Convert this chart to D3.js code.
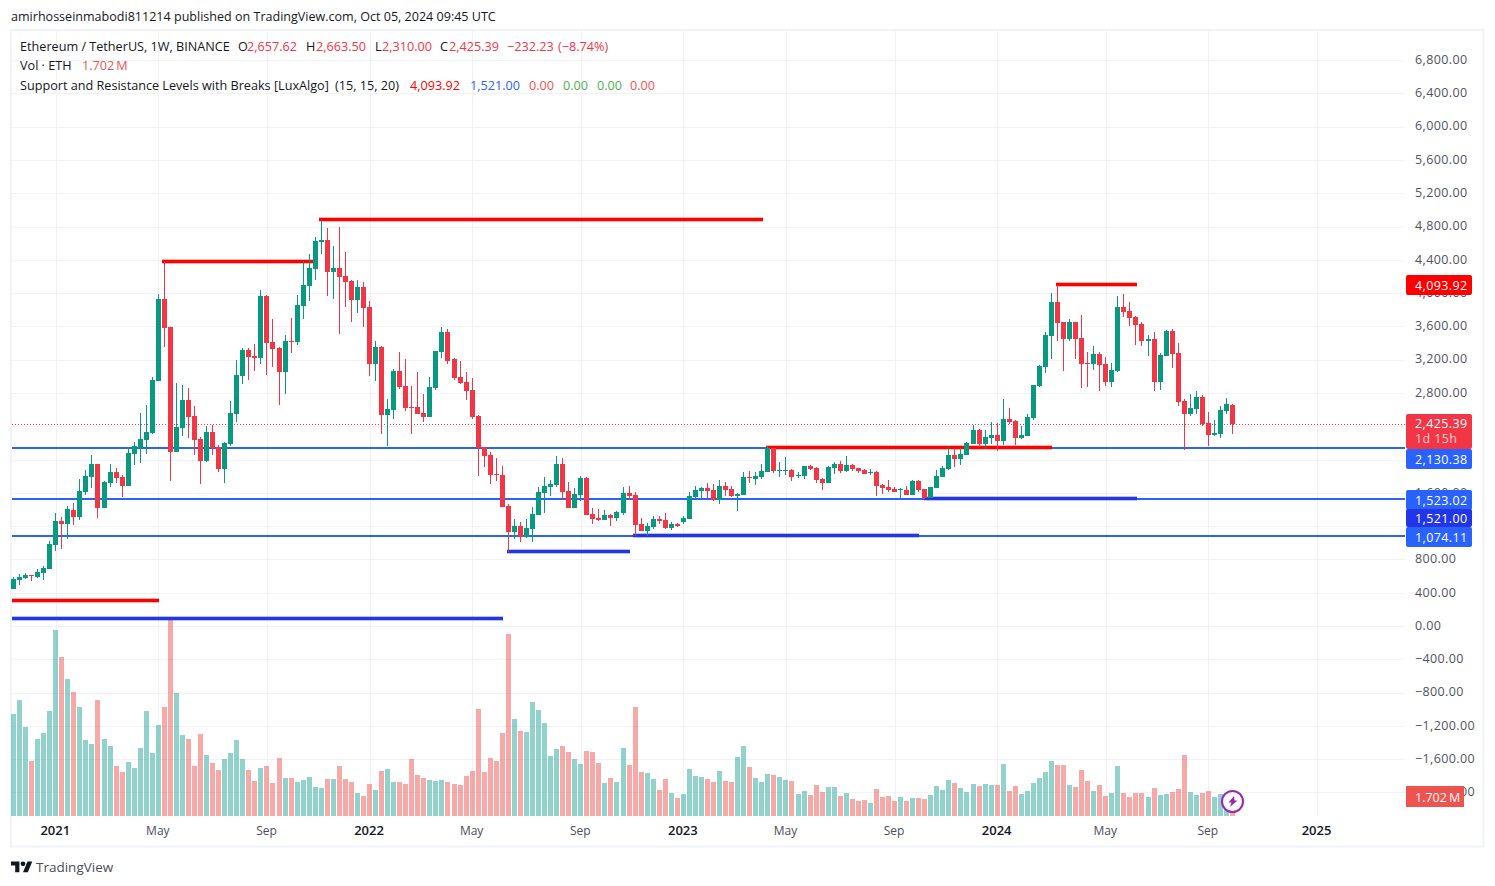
<!DOCTYPE html>
<meta charset="utf-8">
<style>
html, body { margin: 0; padding: 0; background: #fff; }
text { font-family: "Open Sans", "Noto Sans", sans-serif; }
</style>
<body>
<script src="https://d3js.org/d3.v7.min.js"></script>
<script>

// weekly ETH/USDT candles, one entry per week
var opens = [
  448,556,580,616,592,640,688,976,1264,1228,
  1396,1312,1612,1792,1948,1420,1720,1852,1792,1684,
  2068,2140,2236,2320,2944,3928,3592,2092,2380,2716,
  2524,2248,1984,2332,2152,1888,2188,2548,3004,3316,
  3244,3220,3964,3412,3340,3052,3424,3412,3844,4084,
  4288,4612,4636,4252,4300,4203,4143,3915,4071,3831,
  3146,3350,2534,2594,3062,2882,2630,2630,2558,2510,
  2858,3290,3530,3206,2990,2930,2834,2522,2150,2054,
  1826,1814,1442,1130,1202,1070,1166,1334,1598,1670,
  1694,1946,1622,1418,1574,1778,1346,1298,1274,1334,
  1298,1358,1598,1574,1226,1142,1190,1286,1274,1178,
  1226,1249,1285,1549,1621,1657,1633,1513,1681,1645,
  1561,1573,1789,1765,1789,1849,2137,1861,1861,1873,
  1801,1801,1921,1897,1765,1717,1897,1945,1861,1933,
  1897,1873,1837,1849,1693,1669,1645,1633,1633,1573,
  1741,1645,1537,1657,1789,1885,2053,2005,2053,2185,
  2353,2185,2257,2293,2223,2487,2463,2259,2283,2499,
  2883,3111,3483,3891,3651,3447,3651,3459,3159,3147,
  3267,3147,2931,3063,3831,3783,3711,3627,3423,3447,
  2931,3243,3543,3279,2703,2547,2607,2751,2439,2295,
  2307,2583,2657.62];
var highs = [
  592,628,640,616,688,724,1024,1360,1312,1444,
  1480,1768,1876,2056,1948,1744,1948,1900,1816,2152,
  2212,2560,2656,2992,3988,4372,3592,2920,2896,2860,
  2644,2272,2404,2416,2176,2212,2704,3196,3340,3340,
  3388,4036,3976,3688,3352,3496,3700,3976,4384,4468,
  4672,4876,4780,4564,4792,4491,4155,4155,4131,3903,
  3422,3362,2726,3086,3290,3206,2882,3050,2786,2990,
  3302,3590,3566,3218,3182,3050,2978,2534,2150,2090,
  2018,1922,1466,1286,1250,1286,1430,1670,1790,1754,
  2042,2018,1730,1658,1802,1790,1418,1406,1394,1346,
  1382,1670,1682,1610,1298,1238,1322,1322,1358,1250,
  1238,1321,1609,1681,1669,1717,1705,1753,1729,1681,
  1597,1849,1861,1849,1945,2161,2137,1969,2029,1885,
  1849,1921,1933,1909,1777,1921,1969,1981,2041,1945,
  1897,1885,1885,1861,1705,1753,1669,1657,1681,1753,
  1753,1645,1669,1873,1921,2149,2137,2137,2209,2413,
  2365,2353,2449,2437,2727,2619,2475,2403,2547,2895,
  3135,3531,3999,4095,3651,3687,3651,3735,3291,3363,
  3291,3231,3159,3963,3987,3891,3723,3651,3495,3531,
  3279,3555,3567,3399,2727,2787,2823,2775,2571,2475,
  2643,2739,2663.5];
var lows = [
  448,496,568,544,580,556,688,904,928,1048,
  1216,1276,1576,1660,1300,1420,1672,1720,1552,1684,
  1936,1960,2068,2308,2944,3352,1744,2092,2284,2260,
  2056,1708,1972,2056,1852,1720,2164,2452,2908,2956,
  3064,3148,3016,3112,2656,2788,3280,3376,3688,3904,
  4156,4468,3964,3928,3508,3831,3651,3759,3591,3002,
  2942,2306,2162,2486,2846,2582,2306,2546,2450,2510,
  2834,3218,3146,2954,2906,2714,2486,1802,1910,1706,
  1742,1430,890,1046,1010,1058,1010,1334,1358,1562,
  1670,1526,1418,1418,1502,1334,1226,1262,1274,1202,
  1262,1334,1514,1082,1142,1082,1166,1226,1166,1154,
  1190,1225,1285,1525,1525,1537,1501,1465,1561,1549,
  1381,1573,1717,1693,1765,1849,1837,1789,1813,1741,
  1777,1765,1873,1717,1633,1717,1825,1837,1849,1861,
  1837,1825,1813,1561,1585,1609,1609,1537,1573,1573,
  1609,1525,1537,1657,1789,1873,1909,1933,2053,2185,
  2149,2125,2185,2101,2175,2427,2175,2247,2283,2475,
  2871,3039,3207,3423,3063,3423,3207,2859,2871,3075,
  2823,2883,2871,3051,3711,3603,3375,3363,3243,2823,
  2835,3243,3099,2643,2115,2523,2547,2403,2163,2283,
  2259,2547,2310];
var closes = [
  568,592,616,604,652,700,988,1264,1228,1408,
  1312,1624,1804,1948,1420,1732,1852,1780,1684,2080,
  2164,2248,2332,2956,3928,3580,2092,2392,2716,2512,
  2236,1984,2332,2140,1888,2200,2560,3016,3316,3232,
  3220,3964,3400,3328,3052,3424,3412,3856,4096,4300,
  4624,4636,4252,4300,4192,4131,3915,4071,3819,3146,
  3350,2534,2606,3062,2870,2618,2618,2546,2510,2870,
  3302,3530,3182,2978,2918,2822,2510,2138,2042,1814,
  1814,1430,1130,1202,1070,1178,1346,1610,1682,1706,
  1946,1610,1418,1586,1778,1334,1286,1274,1334,1298,
  1370,1598,1562,1214,1142,1202,1286,1262,1178,1226,
  1202,1297,1561,1633,1657,1621,1513,1681,1633,1561,
  1585,1789,1777,1801,1861,2137,1861,1873,1873,1789,
  1813,1921,1885,1753,1717,1909,1945,1861,1933,1885,
  1861,1825,1849,1681,1657,1633,1609,1645,1573,1741,
  1633,1537,1669,1801,1897,2053,2005,2065,2197,2353,
  2185,2269,2293,2221,2487,2451,2259,2295,2511,2895,
  3123,3495,3891,3639,3447,3651,3447,3147,3147,3267,
  3135,2931,3075,3831,3771,3699,3615,3423,3447,2931,
  3255,3543,3267,2691,2547,2619,2751,2427,2295,2319,
  2595,2667,2425.39];
// volume in millions of ETH
var volumes = [
  7.13,8.11,6.22,3.85,5.38,5.80,7.34,13.0,11.12,9.58,
  8.67,7.62,5.31,5.03,8.11,5.38,4.90,3.50,3.08,3.78,
  3.36,4.76,7.34,4.41,6.36,7.62,13.75,8.60,5.66,5.38,
  3.50,5.73,4.27,3.71,3.22,3.99,4.41,5.31,3.99,3.22,
  2.45,3.36,3.50,2.31,4.06,2.66,2.66,2.38,2.52,2.73,
  2.03,1.96,2.59,2.59,3.50,2.59,2.38,1.61,1.40,2.24,
  1.82,3.15,3.29,2.38,2.38,2.24,3.99,2.87,2.66,2.52,
  2.45,2.52,2.38,2.24,2.17,2.80,3.15,7.48,3.08,4.06,
  3.85,5.80,12.74,6.78,5.94,5.87,7.97,7.41,6.50,4.20,
  4.69,4.90,4.48,3.99,3.64,4.55,4.48,3.71,2.31,2.66,
  2.38,4.76,3.57,7.62,3.08,3.01,2.59,1.82,2.59,1.61,
  1.26,1.54,3.29,2.80,2.73,2.59,2.38,3.15,2.45,2.38,
  4.13,4.90,3.43,2.66,2.38,2.94,2.87,2.73,2.52,2.45,
  1.54,1.75,1.47,2.17,1.68,2.03,2.03,1.40,1.61,1.19,
  1.05,1.12,0.91,1.89,1.33,1.40,1.05,1.33,1.05,1.26,
  1.26,1.19,1.47,2.10,1.82,2.52,2.31,1.96,1.68,2.24,
  2.10,2.24,2.17,2.17,3.64,1.75,2.10,1.54,1.75,2.31,
  2.66,3.08,3.85,3.57,3.57,2.17,2.03,3.22,2.45,1.75,
  2.17,1.40,1.61,3.50,1.61,1.33,1.61,1.61,1.33,1.96,
  1.47,1.54,1.68,1.89,4.27,1.68,1.47,1.61,1.75,1.33,
  1.54,1.50,1.702];

// x axis ticks: week number and label
var tickWeeks = [7,24,42,59,76,94,111,128,146,163,181,198,216];
var tickLabels = ["2021","May","Sep","2022","May","Sep","2023","May","Sep","2024","May","Sep","2025"];
var priceTicks = d3.range(6800, -2001, -400);

// indicator levels drawn with the candles
var levelStart = [-0.25,-0.25,24.69,50.62,81.7,102.65,124.7,150.9,172.75];
var levelEnd   = [24.1,81.1,50.13,124.2,102.16,150.05,172.1,186.2,186.2];
var levelPrice = [300,78,4372,4870,887,1074.11,2137,1521,4093.92];
var levelKind  = ["res","sup","res","res","sup","sup","res","sup","res"];
var fullLevels = [2130.38,1523.02,1074.11];

// boxes on the price axis, stacked so they don't sit on each other
var tagTexts  = ["4,093.92","2,130.38","1,523.02","1,074.11","1,521.00"];
var tagColors = ["#ff0000","#2962ff","#2962ff","#2962ff","#2236e8"];
var tagTops   = [275,449,490,527,509];

var up = "#089981", down = "#f23645";
var width = 1495, height = 886;
var paneRight = 1405, paneBottom = 816;

var svg = d3.select("body").append("svg")
    .attr("width", width)
    .attr("height", height)
    .style("display", "block");

var x = d3.scaleLinear().domain([0, 202]).range([13.5, 1232.5]);
var y = d3.scaleLinear().domain([4800, 0]).range([226.5, 626]);
var v = d3.scaleLinear().domain([0, 14]).range([paneBottom, 616]);

var weeks = d3.range(opens.length);

// frame
svg.append("rect")
    .attr("x", 11).attr("y", 30)
    .attr("width", 1472.5).attr("height", 816.5)
    .attr("fill", "#fff")
    .attr("stroke", "#f0f3fa")
    .attr("stroke-width", 2);

// grid
var grid = svg.append("g").attr("shape-rendering", "crispEdges").attr("stroke", "#f2f2f4");
grid.selectAll(".h").data(priceTicks).enter().append("line")
    .attr("x1", 12).attr("x2", paneRight)
    .attr("y1", function(d) { return Math.round(y(d)) + 0.5; })
    .attr("y2", function(d) { return Math.round(y(d)) + 0.5; });
grid.selectAll(".v").data(tickWeeks).enter().append("line")
    .attr("y1", 31).attr("y2", paneBottom)
    .attr("x1", function(d) { return Math.round(x(d)) + 0.5; })
    .attr("x2", function(d) { return Math.round(x(d)) + 0.5; });

// volume
svg.append("g").attr("shape-rendering", "crispEdges")
  .selectAll("rect").data(weeks).enter().append("rect")
    .attr("x", function(i) { return Math.round(x(i) - 2.5); })
    .attr("width", 5)
    .attr("y", function(i) { return v(volumes[i]); })
    .attr("height", function(i) { return paneBottom - v(volumes[i]); })
    .attr("fill", function(i) { return closes[i] < opens[i] ? "rgba(239,83,80,0.5)" : "rgba(38,166,154,0.5)"; });

// last price dotted line
svg.append("line")
    .attr("x1", 12).attr("x2", paneRight)
    .attr("y1", Math.floor(y(2425.39)) + 0.5).attr("y2", Math.floor(y(2425.39)) + 0.5)
    .attr("stroke", down)
    .attr("stroke-dasharray", "1 2");

// horizontal levels across the whole pane
svg.append("g").attr("shape-rendering", "crispEdges")
  .selectAll("line").data(fullLevels).enter().append("line")
    .attr("x1", 12).attr("x2", paneRight)
    .attr("y1", function(d) { return Math.floor(y(d)); })
    .attr("y2", function(d) { return Math.floor(y(d)); })
    .attr("stroke", "#2962ff")
    .attr("stroke-width", 2);

// support / resistance segments, soft edge then solid core
var kindColor = {res: "#ff0000", sup: "#2236e8"};
[[5, 0.3], [3, 1]].forEach(function(s) {
  svg.append("g").attr("shape-rendering", "crispEdges")
    .selectAll("line").data(levelPrice).enter().append("line")
      .attr("x1", function(d, i) { return x(levelStart[i]); })
      .attr("x2", function(d, i) { return x(levelEnd[i]); })
      .attr("y1", function(d) { return Math.floor(y(d)) - 0.5; })
      .attr("y2", function(d) { return Math.floor(y(d)) - 0.5; })
      .attr("stroke", function(d, i) { return kindColor[levelKind[i]]; })
      .attr("stroke-width", s[0])
      .attr("stroke-opacity", s[1]);
});

// candles
var candle = svg.append("g").attr("shape-rendering", "crispEdges")
  .selectAll("g").data(weeks).enter().append("g")
    .attr("fill", function(i) { return closes[i] < opens[i] ? down : up; });
candle.append("rect")
    .attr("x", function(i) { return Math.round(x(i) - 0.5); })
    .attr("width", 1)
    .attr("y", function(i) { return Math.round(y(highs[i])); })
    .attr("height", function(i) { return Math.max(1, Math.round(y(lows[i])) - Math.round(y(highs[i]))); });
candle.append("rect")
    .attr("x", function(i) { return Math.round(x(i) - 2.5); })
    .attr("width", 5)
    .attr("y", function(i) { return Math.round(y(Math.max(opens[i], closes[i]))); })
    .attr("height", function(i) {
      return Math.max(1, Math.round(y(Math.min(opens[i], closes[i]))) - Math.round(y(Math.max(opens[i], closes[i]))));
    });

// price axis
var axisSpacing = "0.38px";
var yAxis = svg.append("g")
    .attr("transform", "translate(1415,-0.7)")
    .call(d3.axisRight(y).tickValues(priceTicks).tickSize(0).tickPadding(0).tickFormat(d3.format(",.2f")));
yAxis.select(".domain").remove();
yAxis.selectAll("text").attr("font-size", 12.5).attr("fill", "#50535e")
    .style("font-family", null).style("letter-spacing", axisSpacing);

// time axis
var xAxis = svg.append("g")
    .attr("transform", "translate(-1," + (paneBottom + 2) + ")")
    .call(d3.axisBottom(x).tickValues(tickWeeks).tickSize(0).tickPadding(8)
      .tickFormat(function(d, i) { return tickLabels[i]; }));
xAxis.select(".domain").remove();
xAxis.selectAll("text")
    .attr("font-size", function(d, i) { return /^\d/.test(tickLabels[i]) ? 13 : 12; })
    .attr("font-weight", function(d, i) { return /^\d/.test(tickLabels[i]) ? 600 : 400; })
    .attr("fill", function(d, i) { return /^\d/.test(tickLabels[i]) ? "#131722" : "#4a4e57"; })
    .style("font-family", null);

// axis price tags
tagTexts.forEach(function(t, i) {
  svg.append("rect").attr("x", 1406).attr("y", tagTops[i]).attr("width", 66)
      .attr("height", i == 4 ? 18 : 20).attr("rx", 2).attr("fill", tagColors[i]);
  svg.append("text").attr("x", 1415).attr("y", tagTops[i] + (i == 4 ? 13.5 : 14.5)).attr("font-size", 12.5)
      .attr("fill", "#fff").style("letter-spacing", axisSpacing).text(t);
});
// last price tag has a countdown under the price
svg.append("rect").attr("x", 1406).attr("y", 414).attr("width", 66).attr("height", 35).attr("rx", 2).attr("fill", down);
svg.append("text").attr("x", 1415).attr("y", 428).attr("font-size", 12.5).attr("fill", "#fff")
    .style("letter-spacing", axisSpacing).text("2,425.39");
svg.append("text").attr("x", 1415).attr("y", 443).attr("font-size", 12.5).attr("fill", "#fbd0d4")
    .style("letter-spacing", axisSpacing).text("1d 15h");
// volume tag
svg.append("rect").attr("x", 1406).attr("y", 786).attr("width", 58).attr("height", 21).attr("fill", "#ef5350");
svg.append("text").attr("x", 1415).attr("y", 802).attr("font-size", 12.5).attr("fill", "#fff").text("1.702\u2009M");

// legend
var legendText = [
  [20, 51, "Ethereum / TetherUS, 1W, BINANCE", "#131722"],
  [238, 51, "O", "#131722"], [247, 51, "2,657.62", down],
  [306, 51, "H", "#131722"], [316, 51, "2,663.50", down],
  [375, 51, "L", "#131722"], [382, 51, "2,310.00", down],
  [440, 51, "C", "#131722"], [449, 51, "2,425.39", down],
  [507, 51, "\u2212232.23", down], [558, 51, "(\u22128.74%)", down],
  [20, 70, "Vol \u00b7 ETH", "#131722"], [82, 70, "1.702\u2009M", "#ef5350"],
  [20, 89.5, "Support and Resistance Levels with Breaks [LuxAlgo]", "#131722"],
  [335, 89.5, "(15, 15, 20)", "#131722"],
  [410, 89.5, "4,093.92", "#ff0000"], [470, 89.5, "1,521.00", "#2962ff"],
  [529, 89.5, "0.00", "#ef5350"], [563, 89.5, "0.00", "#4caf50"],
  [597, 89.5, "0.00", "#4caf50"], [630, 89.5, "0.00", "#ef5350"]
];
svg.append("g").selectAll("text").data(legendText).enter().append("text")
    .attr("x", function(d) { return d[0]; })
    .attr("y", function(d) { return d[1]; })
    .attr("font-size", 12.65)
    .attr("fill", function(d) { return d[3]; })
    .text(function(d) { return d[2]; });

// publisher line
svg.append("text").attr("x", 11).attr("y", 21).attr("font-size", 12.55).attr("fill", "#131722")
    .text("amirhosseinmabodi811214 published on TradingView.com, Oct 05, 2024 09:45 UTC");

// logo and name
var logo = svg.append("g").attr("transform", "translate(11,859) scale(0.6)").attr("fill", "#131722");
logo.append("path").attr("d", "M14 22H7V11H0V4h14v18zM28 22h-8l7.5-18h8L28 22z");
logo.append("circle").attr("cx", 20).attr("cy", 8).attr("r", 4);
svg.append("text").attr("x", 36).attr("y", 872).attr("font-size", 13.5).attr("fill", "#4a4e57").text("TradingView");

// bolt icon on the last bar
svg.append("circle").attr("cx", 1232.5).attr("cy", 801.5).attr("r", 10.5)
    .attr("fill", "#fff").attr("stroke", "#9c27b0").attr("stroke-width", 2);
svg.append("path")
    .attr("transform", "translate(1232.5,801.5)")
    .attr("d", "M1.5-5.5L-4 1h3l-1.5 4.5L5-1H2z")
    .attr("fill", "#9c27b0");

</script>
</body>
